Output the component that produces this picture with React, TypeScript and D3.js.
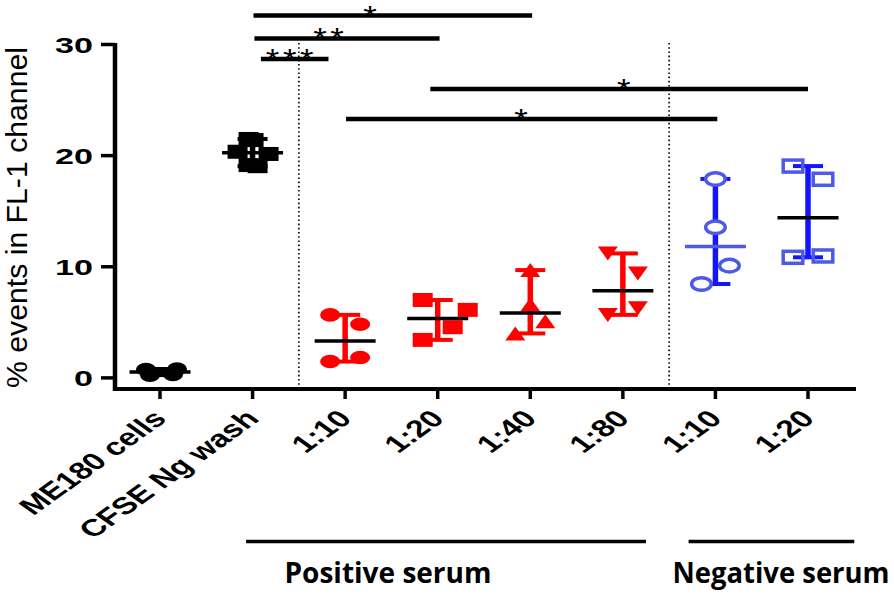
import React from "react";
import * as d3 from "d3";

const categories = ["ME180 cells", "CFSE Ng wash", "1:10", "1:20", "1:40", "1:80", "1:10 ", "1:20 "];
const tickLabels = ["ME180 cells", "CFSE Ng wash", "1:10", "1:20", "1:40", "1:80", "1:10", "1:20"];
const yTicks = [0, 10, 20, 30];

const me180 = [0.75, 0.25, 0.3, 0.8];
const cfse = [21.5, 21.4, 20.35, 20.15, 19.15, 19.05];
const pos10 = [5.67, 4.83, 1.47, 1.83];
const pos20 = [7.01, 6.12, 4.56, 3.42];
const pos40 = [9.7, 6.6, 5.1, 4.0];
const pos80 = [11.2, 9.4, 5.67, 6.27];
const neg10 = [17.9, 13.55, 10.1, 8.45];
const neg20 = [19.06, 17.87, 10.85, 10.97];

const seriesValues = [me180, cfse, pos10, pos20, pos40, pos80, neg10, neg20];
// horizontal scatter of points within a column (pixels)
const jitter = [
  [-14, -10, 13, 17],
  [-4, 1, -15, 16, -4, 5],
  [-15, 15, -15, 15],
  [-15, 30, 15, -15],
  [0, 0, 15, -15],
  [-15, 15, -15, 15],
  [0, 0, 14, -14],
  [-15, 15, -15, 15],
];
const shapes = ["circle", "square", "circle", "square", "triUp", "triDown", "openCircle", "openSquare"];
const colors = ["#000000", "#000000", "#ff0000", "#ff0000", "#ff0000", "#ff0000", "#1414ff", "#1414ff"];
const markerColors = ["#000000", "#000000", "#ff0000", "#ff0000", "#ff0000", "#ff0000", "#4d5ae8", "#4d5ae8"];
const medianColors = ["#000000", "#000000", "#000000", "#000000", "#000000", "#000000", "#4d5ae8", "#000000"];

// significance brackets (category index positions, y value, label)
const sigFrom = [1.01, 1.02, 1.09, 2.92, 2.01];
const sigTo = [4.02, 3.02, 1.82, 7.0, 6.02];
const sigY = [32.6, 30.55, 28.7, 26.0, 23.3];
const sigLabels = ["*", "**", "***", "*", "*"];
const sigLabelPos = [2.27, 1.84, 1.42, 5.01, 3.9];

const groupNames = ["Positive serum", "Negative serum"];
const groupFrom = [0.93, 5.71];
const groupTo = [5.25, 7.5];

const W = 894;
const H = 601;
const SX = 1.55; // horizontal stretch of the original figure

function stretchText(x: number, y: number, sx: number, rot = 0) {
  return `translate(${x},${y}) scale(${sx},1)` + (rot ? ` rotate(${rot})` : "");
}

function Marker({ shape, cx, cy, color }: { shape: string; cx: number; cy: number; color: string }) {
  const w = 10;
  const h = 7;
  if (shape === "circle") return <ellipse cx={cx} cy={cy} rx={w} ry={6.8} fill={color} />;
  if (shape === "square") return <rect x={cx - w} y={cy - h} width={2 * w} height={2 * h} fill={color} />;
  if (shape === "triUp")
    return <path d={`M${cx},${cy - h} L${cx + w},${cy + h} L${cx - w},${cy + h} Z`} fill={color} />;
  if (shape === "triDown")
    return <path d={`M${cx - w},${cy - h} L${cx + w},${cy - h} L${cx},${cy + h} Z`} fill={color} />;
  if (shape === "openCircle")
    return <ellipse cx={cx} cy={cy} rx={9.8} ry={6.3} fill="#ffffff" stroke={color} strokeWidth={3.5} />;
  return <rect x={cx - 9.8} y={cy - 6} width={19.6} height={12} fill="none" stroke={color} strokeWidth={3.5} />;
}

export default function App() {
  const x = d3.scalePoint<string>().domain(categories).range([160, 808]);
  const xi = d3.scaleLinear().domain([0, categories.length - 1]).range([160, 808]);
  const y = d3.scaleLinear().domain([-1, 30]).range([389, 44.5]);
  const axisY = 389;
  const axisX = 115;

  return (
    <svg width={W} height={H} style={{ position: "absolute", left: 0, top: 0, background: "#fff" }}
      fontFamily="Arial, 'Liberation Sans', sans-serif">
      {/* dotted separators */}
      {[1.5, 5.5].map((d) => (
        <line key={d} x1={xi(d)} x2={xi(d)} y1={43} y2={axisY} stroke="#000" strokeWidth={1.6}
          strokeDasharray="1.6,2.6" />
      ))}

      {/* axes */}
      <line x1={axisX} x2={axisX} y1={y(30) - 1.5} y2={axisY + 2} stroke="#000" strokeWidth={4.5} />
      <line x1={axisX - 2} x2={856} y1={axisY} y2={axisY} stroke="#000" strokeWidth={4} />
      {yTicks.map((t) => (
        <g key={t}>
          <line x1={101} x2={axisX} y1={y(t)} y2={y(t)} stroke="#000" strokeWidth={3.5} />
          <text transform={stretchText(93, y(t) + 8, SX)} textAnchor="end" fontWeight="bold" fontSize={22}>
            {t}
          </text>
        </g>
      ))}
      {categories.map((c, i) => (
        <g key={c}>
          <line x1={x(c)!} x2={x(c)!} y1={axisY} y2={399} stroke="#000" strokeWidth={3.5} />
          <text transform={stretchText(x(c)! + 8, 420, 1.4, -45)} textAnchor="end" fontWeight="bold" fontSize={24}>
            {tickLabels[i]}
          </text>
        </g>
      ))}

      {/* y title */}
      <text transform={`translate(27,${(47 + 388) / 2}) rotate(-90)`} textAnchor="middle" fontSize={30}
        textLength={341} lengthAdjust="spacingAndGlyphs">
        % events in FL-1 channel
      </text>

      {/* data */}
      {seriesValues.map((vals, gi) => {
        const cx = x(categories[gi])!;
        const sorted = [...vals].sort((a, b) => a - b);
        const med = d3.median(sorted)!;
        const lo = d3.min(sorted)!;
        const hi = d3.max(sorted)!;
        const col = colors[gi];
        return (
          <g key={gi}>
            <line x1={cx} x2={cx} y1={y(lo)} y2={y(hi)} stroke={col} strokeWidth={5.5} />
            <line x1={cx - 15} x2={cx + 15} y1={y(lo)} y2={y(lo)} stroke={col} strokeWidth={4} />
            <line x1={cx - 15} x2={cx + 15} y1={y(hi)} y2={y(hi)} stroke={col} strokeWidth={4} />
            {vals.map((v, j) => (
              <Marker key={j} shape={shapes[gi]} cx={cx + jitter[gi][j]} cy={y(v)} color={markerColors[gi]} />
            ))}
            <line x1={cx - 30.5} x2={cx + 30.5} y1={y(med)} y2={y(med)} stroke={medianColors[gi]} strokeWidth={3.5} />
          </g>
        );
      })}

      {/* significance */}
      {sigY.map((v, k) => (
        <g key={k}>
          <line x1={xi(sigFrom[k])} x2={xi(sigTo[k])} y1={y(v)} y2={y(v)} stroke="#000" strokeWidth={4.5} />
          <text transform={stretchText(xi(sigLabelPos[k]), y(v) + 10, 1.2)} textAnchor="middle" fontSize={29}
            letterSpacing={sigLabels[k].length > 1 ? 3 : 0}>
            {sigLabels[k]}
          </text>
        </g>
      ))}

      {/* group labels */}
      {groupNames.map((g, k) => (
        <g key={g}>
          <line x1={xi(groupFrom[k])} x2={xi(groupTo[k])} y1={541.5} y2={541.5} stroke="#000" strokeWidth={3.5} />
          <text x={k === 0 ? 388 : 781} y={583} textAnchor="middle" fontFamily="'Open Sans', sans-serif"
            fontWeight={700} fontSize={28} textLength={k === 0 ? 207 : 217} lengthAdjust="spacingAndGlyphs">
            {g}
          </text>
        </g>
      ))}
    </svg>
  );
}
